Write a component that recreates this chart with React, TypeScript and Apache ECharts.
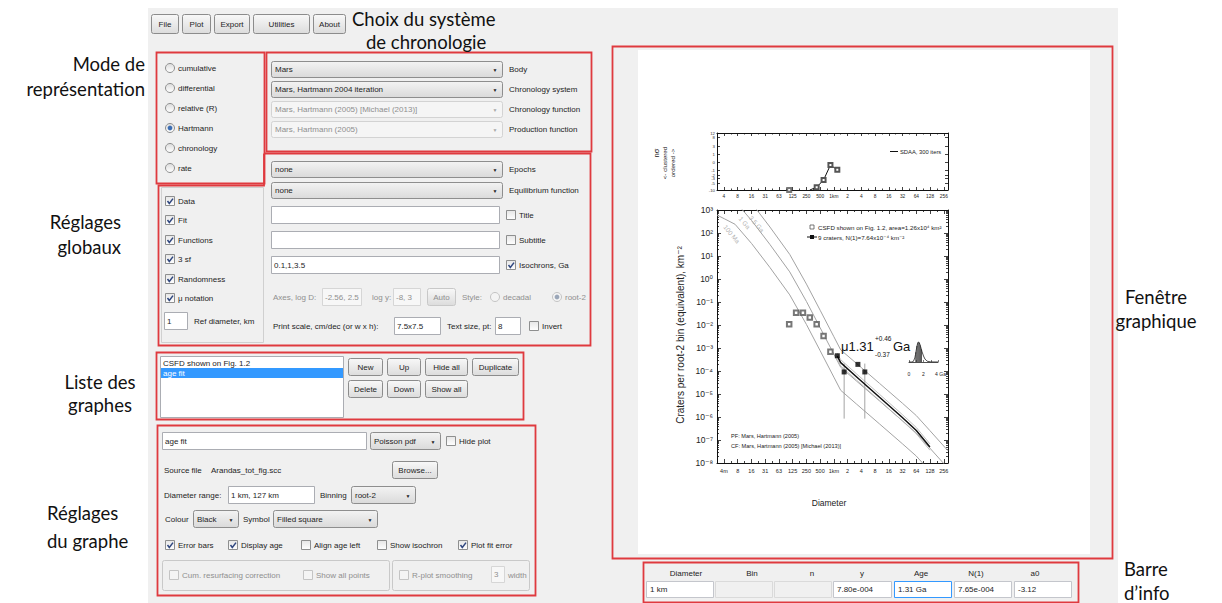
import React, { useEffect, useRef } from 'react';
import * as echarts from 'echarts';

// ---------------- chart data ----------------
const mainXTickLabels = ['4m', '8', '16', '31', '63', '125', '250', '500', '1km', '2', '4', '8', '16', '32', '64', '128', '256'];
const topXTickLabels = ['4', '8', '16', '31', '63', '125', '250', '500', '1km', '2', '4', '8', '16', '32', '64', '128', '256'];
const mainYExponents = [-8, -7, -6, -5, -4, -3, -2, -1, 0, 1, 2, 3];
const randomnessTickLabels = [12, 8, 3, 1, 0, -1, -2, -3, -5, -10];

// CSFD shown on Fig. 1.2 (open squares), diameter km / craters per root-2 bin km^-2
const csfdDiameter = [0.105, 0.149, 0.21, 0.297, 0.42, 0.595, 0.841];
const csfdDensity = [1.07e-2, 3.4e-2, 3.4e-2, 2.1e-2, 1.07e-2, 3.3e-3, 6.8e-4];

// 9 craters fitted (filled squares)
const fitBinDiameter = [1.19, 1.68, 3.36, 4.76];
const fitBinDensity = [4.6e-4, 9.1e-5, 1.94e-4, 9.1e-5];
const errorBarDiameter = [1.68, 4.76];
const errorBarLow = [8.5e-7, 8.5e-7];
const errorBarHigh = [2.1e-4, 2.1e-4];

// isochrons
const isoDiameter = [0.00275, 0.00398, 0.00684, 0.0158, 0.0398, 0.108, 0.251, 0.501, 1.0, 1.41, 3.16, 10, 31.6, 64, 126, 316];
const iso100Ma = [603, 417, 240, 34.7, 3.16, 0.204, 0.0105, 7.6e-4, 5.4e-5, 1.45e-5, 3.6e-6, 5.0e-7, 6.9e-8, 2.0e-8, 4.5e-9, 5.9e-10];
const iso1Ga = [6030, 4170, 2400, 347, 31.6, 2.04, 0.105, 7.6e-3, 5.4e-4, 1.45e-4, 3.6e-5, 5.0e-6, 6.9e-7, 2.0e-7, 4.5e-8, 5.9e-9];
const iso3_5Ga = [34700, 24000, 13800, 2000, 182, 11.7, 0.6, 0.0437, 3.1e-3, 8.3e-4, 2.1e-4, 2.9e-5, 4.0e-6, 1.15e-6, 2.6e-7, 3.4e-8];
const isoLabelDiameter = [0.0058, 0.0112, 0.0205];
const isoLabelDensity = [90, 280, 250];
const isoLabelText = ['100 Ma', '1 Ga', '3.5 Ga'];

// fitted 1.31 Ga isochron and its error bounds
const fitDiameter = [1.19, 1.41, 3.16, 10, 31.6, 64, 127];
const fitDensity = [4.4e-4, 2.3e-4, 5.5e-5, 7.2e-6, 9.5e-7, 2.6e-7, 5.0e-8];
const fitUpper = [5.9e-4, 3.1e-4, 7.4e-5, 9.7e-6, 1.28e-6, 3.5e-7, 6.8e-8];
const fitLower = [3.2e-4, 1.66e-4, 4.0e-5, 5.2e-6, 6.8e-7, 1.87e-7, 3.6e-8];

// randomness panel (n sigma)
const randDiameter = [0.297, 0.42, 0.595, 0.841, 1.19];
const randSigma = [-10, -7.6, -3.6, -0.25, -0.9];
const randLoneDiameter = [0.105];
const randLoneSigma = [-10];

// age probability density inset
const pdfAge = [0, 0.4, 0.6, 0.8, 0.9, 1.0, 1.1, 1.2, 1.31, 1.4, 1.5, 1.6, 1.7, 1.8, 2.0, 2.2, 2.5, 3.0, 4.0];
const pdfDensity = [0, 0, 0.03, 0.2, 0.38, 0.6, 0.8, 0.94, 1.0, 0.97, 0.89, 0.77, 0.64, 0.51, 0.3, 0.15, 0.04, 0.005, 0];
const pdfHatchAge = [0.95, 1.1, 1.25, 1.4, 1.55, 1.7];
const pdfHatchDensity = [0.49, 0.8, 0.97, 0.97, 0.83, 0.64];

// info bar
const infoHeaders = ['Diameter', 'Bin', 'n', 'y', 'Age', 'N(1)', 'a0'];
const infoValues = ['1 km', '', '', '7.80e-004', '1.31 Ga', '7.65e-004', '-3.12'];

// GUI texts
const modeOptions = ['cumulative', 'differential', 'relative (R)', 'Hartmann', 'chronology', 'rate'];
const globalOptions = ['Data', 'Fit', 'Functions', '3 sf', 'Randomness', 'μ notation'];

// ---------------- helpers ----------------
const UI = '"Liberation Sans", Arial, sans-serif';
const PF = '"Liberation Sans", "DejaVu Sans", Arial, sans-serif';
const NOTE = 'Lato, "Open Sans", sans-serif';
const RED = '#df3a3f';
const TXT = '#1d1d1d';
const GRAY_TXT = '#8f8f8f';

const lx = (d: number) => Math.log2(d);
const ly = (v: number) => Math.log10(v);
const nt = (n: number) => Math.sign(n) * Math.log2(1 + Math.abs(n));
const X_MIN = -2.56 * Math.log2(10);
const X_MAX = 2.5 * Math.log2(10);

const majorX: number[] = [];
for (let i = -8; i <= 8; i++) majorX.push(i);
const minorX: number[] = [];
for (let i = -9; i <= 7; i++) minorX.push(i + 0.5);
const majorY = mainYExponents.slice();
const minorY: number[] = [];
for (let d = -8; d <= 2; d++) for (let k = 2; k <= 9; k++) minorY.push(d + Math.log10(k));
const randTicks = randomnessTickLabels.map(nt);

// plot frame (pixels)
const P_LEFT = 717;
const P_WIDTH = 231;

function buildGui() {
  const g: any[] = [];
  const p = (v: number) => Math.round(v) + 0.5;
  const grad = (a: string, b: string) =>
    new echarts.graphic.LinearGradient(0, 0, 0, 1, [
      { offset: 0, color: a },
      { offset: 1, color: b },
    ]);
  const rect = (x: number, y: number, w: number, h: number, fill: any, stroke?: string | null, r = 0, z = 2, lw = 1) => {
    g.push({
      type: 'rect',
      silent: true,
      z,
      shape: stroke ? { x: p(x), y: p(y), width: w - 1, height: h - 1, r } : { x, y, width: w, height: h, r },
      style: { fill, stroke: stroke || null, lineWidth: lw },
    });
  };
  const text = (x: number, y: number, t: string, o: any = {}) => {
    g.push({
      type: 'text',
      silent: true,
      x,
      y,
      rotation: o.rotation || 0,
      z: o.z || 4,
      style: {
        text: t,
        fontSize: o.size || 8,
        fontFamily: o.font || UI,
        fill: o.color || TXT,
        align: o.align || 'left',
        verticalAlign: o.valign || 'middle',
      },
    });
  };
  const redBox = (x: number, y: number, w: number, h: number) => {
    g.push({
      type: 'rect',
      silent: true,
      z: 8,
      shape: { x: x + 0.5, y: y + 0.5, width: w, height: h },
      style: { fill: 'none', stroke: RED, lineWidth: 1.8 },
    });
  };
  const button = (x: number, y: number, w: number, h: number, t: string, disabled = false) => {
    rect(x, y, w, h, grad('#f8f8f8', '#dcdcdc'), disabled ? '#c8c8c8' : '#8c8c8c', 2, 3);
    text(x + w / 2, y + h / 2, t, { align: 'center', color: disabled ? GRAY_TXT : TXT });
  };
  const dropdown = (x: number, y: number, w: number, h: number, t: string, disabled = false) => {
    if (disabled) rect(x, y, w, h, '#f5f5f5', '#d3d3d3', 2, 3);
    else rect(x, y, w, h, grad('#f3f3f3', '#dadada'), '#8e8e8e', 2, 3);
    text(x + 4, y + h / 2, t, { color: disabled ? GRAY_TXT : TXT });
    text(x + w - 8, y + h / 2 + 0.5, '▼', { size: 5, align: 'center', color: disabled ? '#a8a8a8' : '#222' });
  };
  const textbox = (x: number, y: number, w: number, h: number, t: string, disabled = false, border?: string) => {
    rect(x, y, w, h, disabled ? '#f7f7f7' : '#ffffff', border || (disabled ? '#d6d6d6' : '#abadb3'), 0, 3);
    text(x + 3, y + h / 2, t, { color: disabled ? GRAY_TXT : TXT });
  };
  const checkbox = (x: number, y: number, checked: boolean, label: string, disabled = false) => {
    rect(x, y, 10, 10, disabled ? '#f4f4f4' : grad('#e6e6e6', '#ffffff'), disabled ? '#c4c4c4' : '#8e8f8f', 0, 3);
    if (checked) {
      g.push({
        type: 'polyline',
        silent: true,
        z: 4,
        shape: { points: [[x + 2.5, y + 5], [x + 4.3, y + 7.5], [x + 8, y + 2.6]] },
        style: { stroke: '#30477f', lineWidth: 1.5, fill: 'none' },
      });
    }
    text(x + 13, y + 5.5, label, { color: disabled ? GRAY_TXT : TXT });
  };
  const radio = (cx: number, cy: number, selected: boolean, label: string, disabled = false) => {
    g.push({
      type: 'circle',
      silent: true,
      z: 3,
      shape: { cx, cy, r: 4.5 },
      style: { fill: disabled ? '#f4f4f4' : grad('#dcdcdc', '#ffffff'), stroke: disabled ? '#c4c4c4' : '#8e8f8f', lineWidth: 1 },
    });
    if (selected) {
      g.push({
        type: 'circle',
        silent: true,
        z: 4,
        shape: { cx, cy, r: 2.4 },
        style: { fill: disabled ? '#9aa6b8' : '#3b6db3' },
      });
    }
    text(cx + 8, cy + 0.5, label, { color: disabled ? GRAY_TXT : TXT });
  };

  // application background
  rect(148, 8, 970, 595, '#f0f0f0', null, 0, 1);

  // menu bar
  [['File', 151, 28], ['Plot', 182, 29], ['Export', 214, 36], ['Utilities', 253, 57], ['About', 313, 33]].forEach((b: any) =>
    button(b[1], 14, b[2], 20, b[0])
  );

  // mode box
  redBox(156, 52, 108, 131);
  modeOptions.forEach((t, i) => radio(170, 68 + i * 20, t === 'Hartmann', t));

  // chronology box
  redBox(266, 52, 325, 99);
  const chronoRows: any[] = [
    ['Mars', 'Body', false],
    ['Mars, Hartmann 2004 iteration', 'Chronology system', false],
    ['Mars, Hartmann (2005) [Michael (2013)]', 'Chronology function', true],
    ['Mars, Hartmann (2005)', 'Production function', true],
  ];
  chronoRows.forEach((r, i) => {
    dropdown(271, 61 + i * 20, 232, 17, r[0], r[2]);
    text(509, 69.5 + i * 20, r[1]);
  });

  // global settings region
  g.push({
    type: 'polyline',
    silent: true,
    z: 8,
    shape: {
      points: [[264, 153.5], [590.5, 153.5], [590.5, 345.5], [158.5, 345.5], [158.5, 185.5], [264, 185.5], [264, 153.5]],
    },
    style: { stroke: RED, lineWidth: 1.8, fill: 'none' },
  });
  dropdown(271, 161, 232, 17, 'none');
  text(509, 169.5, 'Epochs');
  dropdown(271, 182, 232, 17, 'none');
  text(509, 190.5, 'Equilibrium function');
  textbox(271, 206, 229, 18, '');
  checkbox(506, 210, false, 'Title');
  textbox(271, 231, 229, 18, '');
  checkbox(506, 235, false, 'Subtitle');
  textbox(271, 256, 229, 18, '0.1,1,3.5');
  checkbox(506, 260, true, 'Isochrons, Ga');
  text(273, 297, 'Axes, log D:', { color: GRAY_TXT });
  textbox(322, 288, 40, 18, '-2.56, 2.5', true);
  text(372, 297, 'log y:', { color: GRAY_TXT });
  textbox(393, 288, 28, 18, '-8, 3', true);
  button(427, 288, 29, 18, 'Auto', true);
  text(462, 297, 'Style:', { color: GRAY_TXT });
  radio(495, 297, false, 'decadal', true);
  radio(557, 297, true, 'root-2', true);
  text(273, 326, 'Print scale, cm/dec (or w x h):');
  textbox(394, 317, 47, 18, '7.5x7.5');
  text(447, 326, 'Text size, pt:');
  textbox(495, 317, 26, 18, '8');
  checkbox(529, 321, false, 'Invert');

  rect(161, 187, 103, 156, 'none', '#d0d0d0', 0, 2);
  globalOptions.forEach((t, i) => checkbox(165, [196, 215, 235, 254, 274, 293][i], true, t));
  textbox(164, 312, 24, 18, '1');
  text(194, 321, 'Ref diameter, km');

  // plot list
  redBox(156, 352, 367, 67);
  rect(160, 356, 184, 62, '#ffffff', '#abadb3', 0, 2);
  text(163, 363, 'CSFD shown on Fig. 1.2');
  rect(161, 368, 182, 10, '#3399ff', null, 0, 3);
  text(163, 373, 'age fit', { color: '#ffffff' });
  button(348, 358, 35, 18, 'New');
  button(387, 358, 34, 18, 'Up');
  button(425, 358, 43, 18, 'Hide all');
  button(472, 358, 47, 18, 'Duplicate');
  button(348, 380, 35, 18, 'Delete');
  button(387, 380, 34, 18, 'Down');
  button(425, 380, 43, 18, 'Show all');

  // plot settings
  redBox(157, 425, 378, 170);
  textbox(162, 432, 205, 18, 'age fit');
  dropdown(370, 432, 71, 18, 'Poisson pdf');
  checkbox(446, 436, false, 'Hide plot');
  text(164, 470, 'Source file');
  text(211, 470, 'Arandas_tot_fig.scc');
  button(392, 461, 46, 18, 'Browse...');
  text(164, 495, 'Diameter range:');
  textbox(228, 486, 87, 18, '1 km, 127 km');
  text(320, 495, 'Binning');
  dropdown(351, 486, 65, 18, 'root-2');
  text(165, 519, 'Colour');
  dropdown(193, 510, 46, 18, 'Black');
  text(243, 519, 'Symbol');
  dropdown(273, 510, 105, 18, 'Filled square');
  checkbox(165, 540, true, 'Error bars');
  checkbox(228, 540, true, 'Display age');
  checkbox(301, 540, false, 'Align age left');
  checkbox(377, 540, false, 'Show isochron');
  checkbox(458, 540, true, 'Plot fit error');
  rect(162, 560, 228, 31, 'none', '#c9c9c9', 2, 2);
  rect(392, 560, 138, 31, 'none', '#c9c9c9', 2, 2);
  checkbox(169, 570, false, 'Cum. resurfacing correction', true);
  checkbox(303, 570, false, 'Show all points', true);
  checkbox(399, 570, false, 'R-plot smoothing', true);
  textbox(491, 566, 14, 17, '3', true);
  text(508, 575, 'width', { color: GRAY_TXT });

  // graph window
  redBox(612, 46, 500, 512);
  rect(638, 50, 452, 504, '#ffffff', null, 0, 2);

  // info bar
  redBox(643, 562, 435, 40);
  const fieldX = [646, 715, 774, 833, 894, 954, 1014];
  const fieldW = [68, 58, 58, 59, 58, 58, 58];
  const headerX = [686, 752, 812, 862, 921, 976, 1035];
  infoHeaders.forEach((h, i) => {
    text(headerX[i], 573, h, { align: 'center' });
    const grayField = i === 1 || i === 2;
    rect(fieldX[i], 581, fieldW[i], 17, grayField ? '#f0f0f0' : '#ffffff', i === 4 ? '#3399ff' : grayField ? '#dadada' : '#c4c6cc', 0, 3);
    text(fieldX[i] + 4, 589.5, infoValues[i]);
  });

  // annotations
  const notes: any[] = [
    ['Mode de', 145, 64, 'right'],
    ['représentation', 145, 89, 'right'],
    ['Choix du système', 352, 19, 'left'],
    ['de chronologie', 366, 42, 'left'],
    ['Réglages', 121, 222, 'right'],
    ['globaux', 121, 247, 'right'],
    ['Liste des', 100, 382, 'center'],
    ['graphes', 100, 405, 'center'],
    ['Réglages', 47, 513, 'left'],
    ['du graphe', 47, 541, 'left'],
    ['Fenêtre', 1156, 297, 'center'],
    ['graphique', 1156, 321, 'center'],
    ['Barre', 1124, 569, 'left'],
    ['d’info', 1124, 593, 'left'],
  ];
  notes.forEach((n) => text(n[1], n[2], n[0], { size: 18.5, font: NOTE, align: n[3], color: '#111', z: 10 }));

  // ---- texts inside the plot ----
  const pt = (x: number, y: number, t: string, o: any = {}) => text(x, y, t, { font: PF, z: 14, ...o });
  pt(656, 153, 'nσ', { size: 7.5, rotation: Math.PI / 2, align: 'center', color: '#222' });
  pt(664, 163, '<- clustered', { size: 6.2, rotation: Math.PI / 2, align: 'center', color: '#222' });
  pt(672, 163, 'ordered ->', { size: 6.2, rotation: Math.PI / 2, align: 'center', color: '#222' });
  g.push({ type: 'line', silent: true, z: 14, shape: { x1: 890, y1: 151.5, x2: 898, y2: 151.5 }, style: { stroke: '#111', lineWidth: 1 } });
  pt(900, 151.5, 'SDAA, 300 iters', { size: 5.8, color: '#222' });

  pt(680, 335, 'Craters per root-2 bin (equivalent), km⁻²', { size: 10, rotation: Math.PI / 2, align: 'center', color: '#222' });
  pt(829, 503, 'Diameter', { size: 8.5, align: 'center', color: '#222' });

  g.push({ type: 'rect', silent: true, z: 14, shape: { x: 810, y: 225, width: 4, height: 4 }, style: { fill: '#fff', stroke: '#555', lineWidth: 0.8 } });
  pt(818, 227, 'CSFD shown on Fig. 1.2, area=1.26x10⁴ km²', { size: 6.2, color: '#222' });
  g.push({ type: 'line', silent: true, z: 14, shape: { x1: 807, y1: 237, x2: 817, y2: 237 }, style: { stroke: '#111', lineWidth: 1 } });
  g.push({ type: 'rect', silent: true, z: 14, shape: { x: 810, y: 235, width: 4, height: 4 }, style: { fill: '#111' } });
  pt(818, 237, '9 craters, N(1)=7.64x10⁻⁴ km⁻²', { size: 6.2, color: '#222' });

  pt(731, 436, 'PF: Mars, Hartmann (2005)', { size: 5.6, color: '#222' });
  pt(731, 446, 'CF: Mars, Hartmann (2005) [Michael (2013)]', { size: 5.6, color: '#222' });

  pt(841, 346, 'μ1.31', { size: 13, color: '#111' });
  pt(875, 338, '+0.46', { size: 6.5, color: '#111' });
  pt(875, 354, '-0.37', { size: 6.5, color: '#111' });
  pt(893, 346, 'Ga', { size: 13, color: '#111' });

  return g;
}

function xAxisDef(gridIndex: number, position: string, ticks: number[], len: number, line: boolean, labels?: string[], labelSize = 6, margin = 5) {
  return {
    type: 'value',
    gridIndex,
    position,
    min: X_MIN,
    max: X_MAX,
    z: 10,
    axisLine: { show: line, onZero: false, lineStyle: { color: '#111', width: 1 } },
    axisTick: { show: true, inside: true, length: len, customValues: ticks, lineStyle: { color: '#111', width: 0.8 } },
    axisLabel: labels
      ? {
          show: true,
          customValues: majorX,
          formatter: (v: number) => labels[Math.round(v) + 8] || '',
          fontSize: labelSize,
          color: '#222',
          fontFamily: PF,
          margin,
        }
      : { show: false },
    splitLine: { show: false },
  };
}

function yAxisDef(gridIndex: number, position: string, min: number, max: number, ticks: number[], len: number, line: boolean, label?: any) {
  return {
    type: 'value',
    gridIndex,
    position,
    min,
    max,
    z: 10,
    axisLine: { show: line, onZero: false, lineStyle: { color: '#111', width: 1 } },
    axisTick: { show: true, inside: true, length: len, customValues: ticks, lineStyle: { color: '#111', width: 0.8 } },
    axisLabel: label || { show: false },
    splitLine: { show: false },
  };
}

function buildOption() {
  const supMap: any = { '-': '⁻', '0': '⁰', '1': '¹', '2': '²', '3': '³', '4': '⁴', '5': '⁵', '6': '⁶', '7': '⁷', '8': '⁸', '9': '⁹' };
  const sup = (n: number) => String(n).split('').map((c) => supMap[c]).join('');
  const rMin = nt(-10);
  const rMax = nt(12);

  const lineXY = (ds: number[], vs: number[]) => ds.map((d, i) => [lx(d), ly(vs[i])]);

  const series: any[] = [
    {
      type: 'line',
      xAxisIndex: 0,
      yAxisIndex: 0,
      z: 9,
      data: [],
      markArea: {
        silent: true,
        data: [
          [{ yAxis: nt(3), itemStyle: { color: '#ececec' } }, { yAxis: nt(-3) }],
          [{ yAxis: nt(1), itemStyle: { color: '#dcdcdc' } }, { yAxis: nt(-1) }],
        ],
      },
    },
    {
      type: 'line',
      xAxisIndex: 0,
      yAxisIndex: 0,
      z: 12,
      symbolSize: 4,
      lineStyle: { color: '#111', width: 1 },
      itemStyle: { color: '#555' },
      data: randDiameter.map((d, i) => ({ value: [lx(d), nt(randSigma[i])], symbol: i === 0 ? 'none' : 'emptyRect' })),
    },
    {
      type: 'scatter',
      xAxisIndex: 0,
      yAxisIndex: 0,
      z: 12,
      symbol: 'emptyRect',
      symbolSize: 4,
      itemStyle: { color: '#555' },
      data: randLoneDiameter.map((d, i) => [lx(d), nt(randLoneSigma[i])]),
    },
    ...[iso100Ma, iso1Ga, iso3_5Ga].map((vals) => ({
      type: 'line',
      xAxisIndex: 4,
      yAxisIndex: 2,
      z: 11,
      symbol: 'none',
      lineStyle: { color: '#a3a3a3', width: 1 },
      data: lineXY(isoDiameter, vals),
    })),
    ...[fitUpper, fitLower].map((vals) => ({
      type: 'line',
      xAxisIndex: 4,
      yAxisIndex: 2,
      z: 11,
      symbol: 'none',
      lineStyle: { color: '#b8b8b8', width: 0.9 },
      data: lineXY(fitDiameter, vals),
    })),
    {
      type: 'line',
      xAxisIndex: 4,
      yAxisIndex: 2,
      z: 12,
      symbol: 'none',
      lineStyle: { color: '#111', width: 1.5 },
      data: lineXY(fitDiameter, fitDensity),
    },
    ...errorBarDiameter.map((d, i) => ({
      type: 'line',
      xAxisIndex: 4,
      yAxisIndex: 2,
      z: 11,
      symbol: 'none',
      lineStyle: { color: '#9a9a9a', width: 0.9 },
      data: [
        [lx(d), ly(errorBarLow[i])],
        [lx(d), ly(errorBarHigh[i])],
      ],
    })),
    {
      type: 'scatter',
      xAxisIndex: 4,
      yAxisIndex: 2,
      z: 13,
      symbol: 'emptyRect',
      symbolSize: 4.5,
      itemStyle: { color: '#555', borderWidth: 0.8 },
      data: lineXY(csfdDiameter, csfdDensity),
    },
    {
      type: 'scatter',
      xAxisIndex: 4,
      yAxisIndex: 2,
      z: 13,
      symbol: 'rect',
      symbolSize: 5,
      itemStyle: { color: '#000' },
      data: lineXY(fitBinDiameter, fitBinDensity),
    },
    {
      type: 'scatter',
      xAxisIndex: 4,
      yAxisIndex: 2,
      z: 13,
      symbolSize: 0,
      data: isoLabelDiameter.map((d, i) => ({
        value: [lx(d), ly(isoLabelDensity[i])],
        label: {
          show: true,
          position: 'inside',
          formatter: isoLabelText[i],
          rotate: -50,
          fontSize: 6.5,
          color: '#a0a0a0',
          fontFamily: PF,
        },
      })),
    },
    {
      type: 'line',
      xAxisIndex: 8,
      yAxisIndex: 6,
      z: 12,
      symbol: 'none',
      lineStyle: { color: '#222', width: 0.8 },
      data: pdfAge.map((a, i) => [a, pdfDensity[i]]),
    },
    {
      type: 'bar',
      xAxisIndex: 8,
      yAxisIndex: 6,
      z: 12,
      barWidth: 0.6,
      itemStyle: { color: '#333' },
      data: pdfHatchAge.map((a, i) => [a, pdfHatchDensity[i]]),
    },
  ];

  return {
    animation: false,
    backgroundColor: 'transparent',
    grid: [
      { left: P_LEFT, top: 133, width: P_WIDTH, height: 57, show: false, containLabel: false, outerBoundsMode: 'none' },
      { left: P_LEFT, top: 210, width: P_WIDTH, height: 253, show: false, containLabel: false, outerBoundsMode: 'none' },
      { left: 909, top: 341, width: 29, height: 21, show: false, containLabel: false, outerBoundsMode: 'none' },
    ],
    xAxis: [
      xAxisDef(0, 'bottom', majorX, 3, true, topXTickLabels, 4.8, 4),
      xAxisDef(0, 'bottom', minorX, 1.5, false),
      xAxisDef(0, 'top', majorX, 3, true),
      xAxisDef(0, 'top', minorX, 1.5, false),
      xAxisDef(1, 'bottom', majorX, 4, true, mainXTickLabels, 5.5, 5),
      xAxisDef(1, 'bottom', minorX, 2, false),
      xAxisDef(1, 'top', majorX, 4, true),
      xAxisDef(1, 'top', minorX, 2, false),
      {
        type: 'value',
        gridIndex: 2,
        min: 0,
        max: 4,
        z: 10,
        axisLine: { show: true, onZero: false, lineStyle: { color: '#222', width: 0.8 } },
        axisTick: { show: true, inside: true, length: 2, customValues: [0, 1, 2, 3, 4], lineStyle: { color: '#222', width: 0.6 } },
        axisLabel: {
          show: true,
          customValues: [0, 2, 4],
          formatter: (v: number) => (v === 4 ? '{a|4 Ga}' : String(v)),
          rich: { a: { fontSize: 5, color: '#222', padding: [0, 0, 0, 5], fontFamily: PF } },
          fontSize: 5,
          color: '#222',
          fontFamily: PF,
          margin: 9,
        },
        splitLine: { show: false },
      },
    ],
    yAxis: [
      yAxisDef(0, 'left', rMin, rMax, randTicks, 3, true, {
        show: true,
        customValues: randTicks,
        formatter: (v: number) => {
          const i = randTicks.findIndex((t) => Math.abs(t - v) < 1e-6);
          return i >= 0 ? String(randomnessTickLabels[i]) : '';
        },
        fontSize: 4.3,
        color: '#333',
        fontFamily: PF,
        margin: 2,
      }),
      yAxisDef(0, 'right', rMin, rMax, randTicks, 3, true),
      yAxisDef(1, 'left', -8, 3, majorY, 4, true, {
        show: true,
        customValues: majorY,
        formatter: (v: number) => '10' + sup(Math.round(v)),
        fontSize: 8.5,
        color: '#222',
        fontFamily: PF,
        margin: 4,
      }),
      yAxisDef(1, 'left', -8, 3, minorY, 2, false),
      yAxisDef(1, 'right', -8, 3, majorY, 4, true),
      yAxisDef(1, 'right', -8, 3, minorY, 2, false),
      { type: 'value', gridIndex: 2, min: 0, max: 1.05, show: false },
    ],
    series,
    graphic: { elements: buildGui() },
  };
}

export default function App() {
  const ref = useRef<HTMLDivElement>(null);
  useEffect(() => {
    if (!ref.current) return;
    const chart = echarts.init(ref.current, null, { renderer: 'svg', width: 1222, height: 603 });
    chart.setOption(buildOption() as any);
    return () => chart.dispose();
  }, []);
  return (
    <div
      ref={ref}
      style={{ position: 'absolute', left: 0, top: 0, width: 1222, height: 603, background: '#ffffff' }}
    />
  );
}
